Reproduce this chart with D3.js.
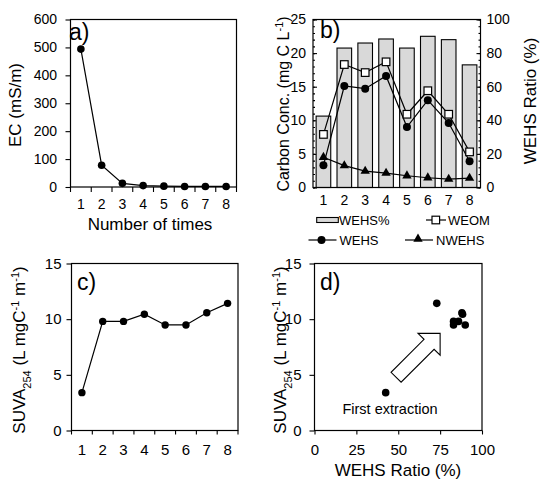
<!DOCTYPE html>
<html>
<head>
<meta charset="utf-8">
<script src="https://cdn.jsdelivr.net/npm/d3@7"></script>
<style>
  body { margin: 0; background: #fff; }
  svg text { font-family: "Liberation Sans", Arial, sans-serif; fill: #000; }
</style>
</head>
<body>
<div class="canvas"></div>
<script>
// values
const times = [1, 2, 3, 4, 5, 6, 7, 8];
const ec = [494, 78, 13, 5, 3, 2, 2, 2];                         // mS/m
const wehsRatio = [42.5, 83, 86, 88.4, 83, 90, 88, 73];           // %
const weom = [7.9, 18.3, 17.1, 18.7, 10.9, 14.4, 10.9, 5.3];      // mg C/L
const wehs = [3.3, 15.1, 14.7, 16.6, 9.0, 13.0, 9.6, 3.9];
const nwehs = [4.5, 3.25, 2.45, 2.15, 1.75, 1.45, 1.25, 1.4];
const suva = [3.4, 9.8, 9.8, 10.44, 9.48, 9.48, 10.58, 11.42];
const ecTicks = [0, 100, 200, 300, 400, 500, 600];
const carbonTicks = [0, 5, 10, 15, 20, 25];
const ratioTicks = [0, 20, 40, 60, 80, 100];
const suvaTicks = [0, 5, 10, 15];
const ratioXTicks = [0, 25, 50, 75, 100];
// block arrow in panel d, in data units (WEHS ratio, SUVA)
const arrowPts = [[75, 8.72], [61.8, 8.72], [65.4, 8.19], [45.7, 5.23], [51.7, 4.34], [71.4, 7.29], [75, 6.76]];

const svg = d3.select('.canvas')
  .append('svg')
    .attr('width', 543)
    .attr('height', 483);

svg.append('rect').attr('width', 543).attr('height', 483).attr('fill', '#fff');

function frame(x0, y0, x1, y1) {
  svg.append('rect')
    .attr('x', x0).attr('y', y0)
    .attr('width', x1 - x0).attr('height', y1 - y0)
    .attr('fill', 'none')
    .attr('stroke', '#000')
    .attr('stroke-width', 1.2);
}

function styleAxis(g, size) {
  g.select('.domain').remove();
  g.selectAll('line').attr('stroke', '#000').attr('stroke-width', 1.1);
  g.selectAll('text').attr('font-size', size).attr('font-family', '"Liberation Sans", Arial, sans-serif');
}

function bandTicks(x, y0, len) {
  const b = x.domain().map(d => x(d));
  b.push(x.range()[1]);
  svg.append('g').selectAll('line')
    .data(b)
    .enter().append('line')
      .attr('x1', d => d).attr('x2', d => d)
      .attr('y1', y0).attr('y2', y0 + len)
      .attr('stroke', '#000').attr('stroke-width', 1.1);
}

function vTitle(cx, cy, size) {
  return svg.append('text')
    .attr('transform', `translate(${cx},${cy}) rotate(-90)`)
    .attr('text-anchor', 'middle')
    .attr('dy', '0.35em')
    .attr('font-size', size);
}

function dots(data, cx, cy, r) {
  svg.append('g').selectAll('circle')
    .data(data)
    .enter().append('circle')
      .attr('cx', cx).attr('cy', cy).attr('r', r)
      .attr('fill', '#000');
}

function linePath(data, fx, fy) {
  svg.append('path')
    .attr('fill', 'none')
    .attr('stroke', '#000')
    .attr('stroke-width', 1.2)
    .attr('d', d3.line().x(fx).y(fy)(data));
}

// ---------- a) EC ----------
const xa = d3.scaleBand().domain(times).range([70.5, 236.5]);
const ya = d3.scaleLinear().domain([0, 600]).range([187, 19.5]);
const cxa = d => xa(d) + xa.bandwidth() / 2;

svg.append('g').attr('transform', 'translate(70.5,0)')
  .call(d3.axisLeft(ya).tickValues(ecTicks).tickSize(5).tickPadding(8.5))
  .call(g => styleAxis(g, 14));
svg.append('g').attr('transform', 'translate(0,187)')
  .call(d3.axisBottom(xa).tickSize(0).tickPadding(12))
  .call(g => styleAxis(g, 14));
bandTicks(xa, 187, 5);
frame(70.5, 19.5, 236.5, 187);

linePath(times, d => cxa(d), (d, i) => ya(ec[i]));
dots(times, d => cxa(d), (d, i) => ya(ec[i]), 3.8);

svg.append('text').attr('x', 69).attr('y', 40).attr('font-size', 23).text('a)');
vTitle(15, 105, 17).text('EC (mS/m)');
svg.append('text').attr('x', 150).attr('y', 230).attr('text-anchor', 'middle')
  .attr('font-size', 17).text('Number of times');

// ---------- b) carbon ----------
const xb = d3.scaleBand().domain(times).range([313, 480]).paddingInner(0.3).paddingOuter(0.15);
const yb = d3.scaleLinear().domain([0, 25]).range([187.5, 19.5]);
const yr = d3.scaleLinear().domain([0, 100]).range([187.5, 19.5]);
const cxb = d => xb(d) + xb.bandwidth() / 2;

svg.append('g').attr('transform', 'translate(313,0)')
  .call(d3.axisLeft(yb).tickValues(d3.range(0, 26, 1)).tickSize(-2).tickFormat(''))
  .call(g => styleAxis(g, 14));
svg.append('g').attr('transform', 'translate(313,0)')
  .call(d3.axisLeft(yb).tickValues(carbonTicks).tickSize(-4).tickPadding(7))
  .call(g => styleAxis(g, 14));
svg.append('g').attr('transform', 'translate(480.5,0)')
  .call(d3.axisRight(yr).tickValues(d3.range(0, 101, 4)).tickSize(-2).tickFormat(''))
  .call(g => styleAxis(g, 14));
svg.append('g').attr('transform', 'translate(480.5,0)')
  .call(d3.axisRight(yr).tickValues(ratioTicks).tickSize(-4).tickPadding(6))
  .call(g => styleAxis(g, 14));
svg.append('g').attr('transform', 'translate(0,187.5)')
  .call(d3.axisBottom(xb).tickSize(0).tickPadding(8))
  .call(g => styleAxis(g, 14));

svg.append('g').selectAll('rect')
  .data(times)
  .enter().append('rect')
    .attr('x', d => xb(d))
    .attr('y', (d, i) => yr(wehsRatio[i]))
    .attr('width', xb.bandwidth())
    .attr('height', (d, i) => yr(0) - yr(wehsRatio[i]))
    .attr('fill', '#d9d9d9')
    .attr('stroke', '#000')
    .attr('stroke-width', 1.1);

frame(313, 19.5, 480.5, 187.5);

linePath(times, d => cxb(d), (d, i) => yb(nwehs[i]));
linePath(times, d => cxb(d), (d, i) => yb(wehs[i]));
linePath(times, d => cxb(d), (d, i) => yb(weom[i]));

const tri = d3.symbol().type(d3.symbolTriangle).size(38);
svg.append('g').selectAll('path')
  .data(times)
  .enter().append('path')
    .attr('d', tri)
    .attr('transform', (d, i) => `translate(${cxb(d)},${yb(nwehs[i])})`)
    .attr('fill', '#000');
dots(times, d => cxb(d), (d, i) => yb(wehs[i]), 4);
svg.append('g').selectAll('rect')
  .data(times)
  .enter().append('rect')
    .attr('x', d => cxb(d) - 3.8)
    .attr('y', (d, i) => yb(weom[i]) - 3.8)
    .attr('width', 7.6).attr('height', 7.6)
    .attr('fill', '#fff')
    .attr('stroke', '#000')
    .attr('stroke-width', 1.2);

svg.append('text').attr('x', 320).attr('y', 37.5).attr('font-size', 23).text('b)');
const tb = vTitle(283, 104, 16);
tb.append('tspan').text('Carbon Conc. (mg C L');
tb.append('tspan').attr('baseline-shift', 'super').attr('font-size', 11).text('-1');
tb.append('tspan').text(')');
vTitle(530, 101, 17).text('WEHS Ratio (%)');

// legend
const lg = svg.append('g').attr('font-size', 13);
lg.append('rect').attr('x', 316.7).attr('y', 217.5).attr('width', 21.6).attr('height', 5)
  .attr('fill', '#d9d9d9').attr('stroke', '#000').attr('stroke-width', 1.1);
lg.append('text').attr('x', 339).attr('y', 220).attr('dy', '0.35em').text('WEHS%');
lg.append('line').attr('x1', 426).attr('x2', 446).attr('y1', 220).attr('y2', 220)
  .attr('stroke', '#000').attr('stroke-width', 1.2);
lg.append('rect').attr('x', 432).attr('y', 216.2).attr('width', 7.6).attr('height', 7.6)
  .attr('fill', '#fff').attr('stroke', '#000').attr('stroke-width', 1.2);
lg.append('text').attr('x', 448).attr('y', 220).attr('dy', '0.35em').text('WEOM');
lg.append('line').attr('x1', 308.5).attr('x2', 336.5).attr('y1', 240).attr('y2', 240)
  .attr('stroke', '#000').attr('stroke-width', 1.2);
lg.append('circle').attr('cx', 321.5).attr('cy', 240).attr('r', 4).attr('fill', '#000');
lg.append('text').attr('x', 339.5).attr('y', 240).attr('dy', '0.35em').text('WEHS');
lg.append('line').attr('x1', 405).attr('x2', 433).attr('y1', 240).attr('y2', 240)
  .attr('stroke', '#000').attr('stroke-width', 1.2);
lg.append('path').attr('d', tri).attr('transform', 'translate(418,239)').attr('fill', '#000');
lg.append('text').attr('x', 436).attr('y', 240).attr('dy', '0.35em').text('NWEHS');

// ---------- c) SUVA vs times ----------
const xc = d3.scaleBand().domain(times).range([71.5, 238]);
const yc = d3.scaleLinear().domain([0, 15]).range([430.5, 263.5]);
const cxc = d => xc(d) + xc.bandwidth() / 2;

svg.append('g').attr('transform', 'translate(71.5,0)')
  .call(d3.axisLeft(yc).tickValues(suvaTicks).tickSize(5).tickPadding(5))
  .call(g => styleAxis(g, 15));
svg.append('g').attr('transform', 'translate(0,430.5)')
  .call(d3.axisBottom(xc).tickSize(0).tickPadding(14))
  .call(g => styleAxis(g, 15));
bandTicks(xc, 430.5, 4);
frame(71.5, 263.5, 238, 430.5);

linePath(times, d => cxc(d), (d, i) => yc(suva[i]));
dots(times, d => cxc(d), (d, i) => yc(suva[i]), 3.7);

svg.append('text').attr('x', 77).attr('y', 290).attr('font-size', 23).text('c)');

function suvaTitle(cx, cy) {
  const t = vTitle(cx, cy, 17);
  t.append('tspan').text('SUVA');
  t.append('tspan').attr('baseline-shift', 'sub').attr('font-size', 11).text('254');
  t.append('tspan').text(' (L mgC');
  t.append('tspan').attr('baseline-shift', 'super').attr('font-size', 11).text('-1');
  t.append('tspan').text(' m');
  t.append('tspan').attr('baseline-shift', 'super').attr('font-size', 11).text('-1');
  t.append('tspan').text(')');
}
suvaTitle(19, 350);

// ---------- d) SUVA vs WEHS ratio ----------
const xd = d3.scaleLinear().domain([0, 100]).range([314.5, 482]);
const yd = d3.scaleLinear().domain([0, 15]).range([430.5, 263.5]);

svg.append('g').attr('transform', 'translate(314.5,0)')
  .call(d3.axisLeft(yd).tickValues(suvaTicks).tickSize(5).tickPadding(8))
  .call(g => styleAxis(g, 15));
svg.append('g').attr('transform', 'translate(0,430.5)')
  .call(d3.axisBottom(xd).tickValues(ratioXTicks).tickSize(4).tickPadding(10))
  .call(g => styleAxis(g, 15));
frame(314.5, 263.5, 482, 430.5);

dots(times, (d, i) => xd(wehsRatio[i]), (d, i) => yd(suva[i]), 3.8);

svg.append('path')
  .attr('d', d3.line().x(p => xd(p[0])).y(p => yd(p[1]))(arrowPts) + 'Z')
  .attr('fill', '#fff')
  .attr('stroke', '#000')
  .attr('stroke-width', 1.1);

svg.append('text').attr('x', 390).attr('y', 414).attr('text-anchor', 'middle')
  .attr('font-size', 14.5).text('First extraction');
svg.append('text').attr('x', 320).attr('y', 290).attr('font-size', 23).text('d)');
suvaTitle(280, 350);
svg.append('text').attr('x', 398).attr('y', 476).attr('text-anchor', 'middle')
  .attr('font-size', 17).text('WEHS Ratio (%)');
</script>
</body>
</html>
